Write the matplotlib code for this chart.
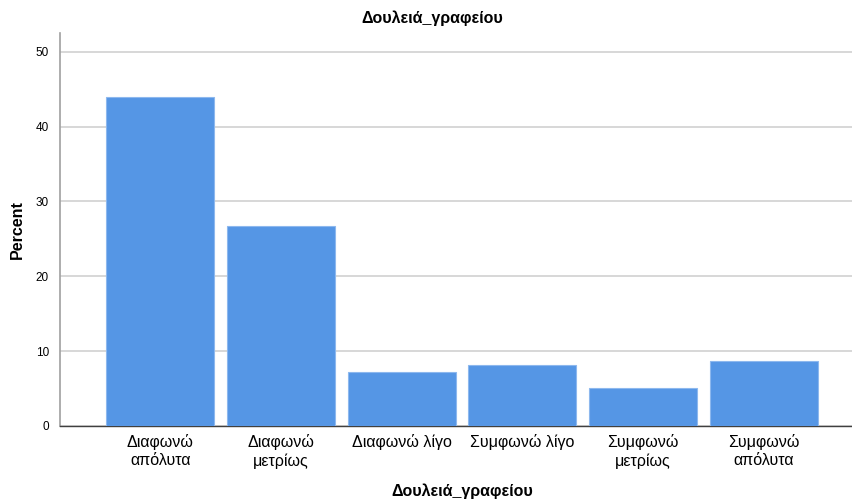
import matplotlib
matplotlib.use("Agg")
import matplotlib.pyplot as plt

categories = ["Διαφωνώ\nαπόλυτα", "Διαφωνώ\nμετρίως", "Διαφωνώ λίγο",
              "Συμφωνώ λίγο", "Συμφωνώ\nμετρίως", "Συμφωνώ\nαπόλυτα"]
percent = [44.0, 26.7, 7.2, 8.2, 5.1, 8.7]
yticks = [0, 10, 20, 30, 40, 50]

plt.rcParams['font.family'] = ['Liberation Sans', 'DejaVu Sans']

fig = plt.figure(figsize=(8.52, 4.99), dpi=100)
ax = fig.add_axes([60/852, 1-426/499, 1-60/852, (426-33)/499])

x = list(range(len(categories)))
ax.bar(x, percent, width=0.895, color="#5596e5", edgecolor="#8db8ee",
       linewidth=0.8, zorder=3)

ax.set_xlim(-0.83, 5.73)
ax.set_ylim(0, 52.5)
ax.set_yticks(yticks)
ax.set_yticklabels([str(t) for t in yticks], fontsize=8.5)
ax.set_xticks(x)
ax.set_xticklabels(categories, fontsize=11.5, linespacing=1.25)
ax.tick_params(axis='both', length=0)
ax.tick_params(axis='y', pad=8)
ax.tick_params(axis='x', pad=6)

ax.yaxis.grid(True, color="#d4d4d4", linewidth=1.3, zorder=0)
ax.set_axisbelow(True)

for s in ["top", "right"]:
    ax.spines[s].set_visible(False)
ax.spines["left"].set_color("#a0a0a0")
ax.spines["left"].set_linewidth(1.2)
ax.spines["bottom"].set_color("#404040")
ax.spines["bottom"].set_linewidth(1.0)

ax.set_ylabel("Percent", fontsize=11.5, fontweight="bold", labelpad=8)
fig.text(462/852, 1-491/499, "Δουλειά_γραφείου", ha="center", va="center",
         fontsize=11.5, fontweight="bold")
fig.text(432/852, 1-18/499, "Δουλειά_γραφείου", ha="center", va="center",
         fontsize=11.5, fontweight="bold")

fig.savefig("out.png", dpi=100)
